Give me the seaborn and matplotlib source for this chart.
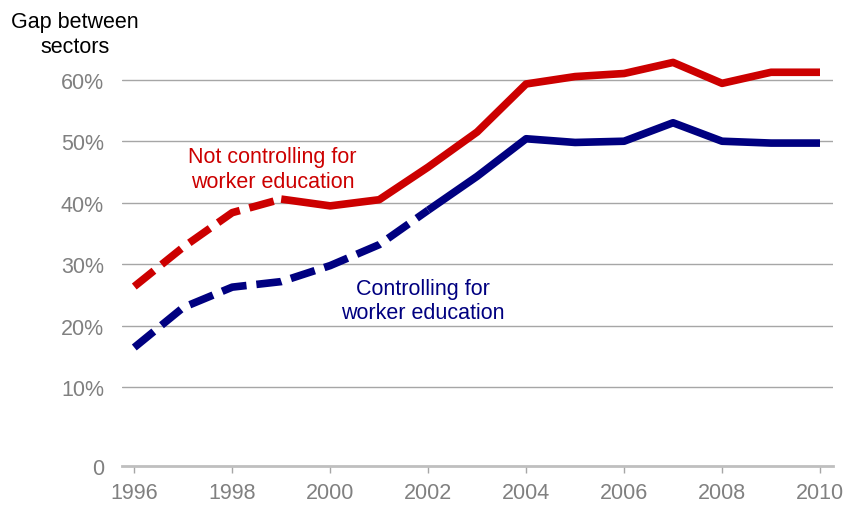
import matplotlib
matplotlib.use("Agg")
import matplotlib.pyplot as plt
import seaborn as sns
import pandas as pd

years = list(range(1996, 2011))
not_controlling = [26.4, 32.8, 38.4, 40.6, 39.5, 40.5, 45.8, 51.5, 59.3, 60.5, 61.0, 62.8, 59.4, 61.2, 61.2]
controlling = [16.5, 23.0, 26.3, 27.2, 29.8, 33.2, 38.8, 44.3, 50.4, 49.8, 50.0, 53.0, 50.0, 49.7, 49.7]
# last year of the dashed (early, less reliable) stretch of each series
dashed_until = {"Not controlling": 1999, "Controlling": 2002}

ytick_values = [10, 20, 30, 40, 50, 60]
ytick_labels = ["10%", "20%", "30%", "40%", "50%", "60%"]
xtick_values = list(range(1996, 2011, 2))

RED = "#cc0000"
NAVY = "#000080"
GRAY_TXT = "#808080"
FS = 15.5

sns.set_theme(style="white")
plt.rcParams["font.family"] = ["Liberation Sans", "DejaVu Sans"]

fig = plt.figure(figsize=(8.48, 5.06), dpi=100)
ax = fig.add_axes([0.1439, 0.0777, 0.982 - 0.1439, 0.9136 - 0.0777])

frames = {
    "Not controlling": pd.DataFrame({"year": years, "gap": not_controlling}),
    "Controlling": pd.DataFrame({"year": years, "gap": controlling}),
}
colors = {"Not controlling": RED, "Controlling": NAVY}

for name, df in frames.items():
    cut = dashed_until[name]
    early = df[df["year"] <= cut]
    late = df[df["year"] >= cut]
    sns.lineplot(data=early, x="year", y="gap", ax=ax, color=colors[name],
                 linewidth=5.5, linestyle=(0, (3.3, 1.3)), dash_capstyle="butt",
                 solid_joinstyle="round")
    sns.lineplot(data=late, x="year", y="gap", ax=ax, color=colors[name],
                 linewidth=5.5, solid_capstyle="butt", solid_joinstyle="round")

y_floor = -2.7
ax.set_xlim(1995.75, 2010.26)
ax.set_ylim(y_floor, 66)

for v in ytick_values:
    ax.axhline(v, color="#a6a6a6", linewidth=1.0, zorder=0)

ax.set_yticks([y_floor] + ytick_values)
ax.set_yticklabels(["0"] + ytick_labels)
ax.set_xticks(xtick_values)
ax.set_xticklabels([str(x) for x in xtick_values])

for side in ["left", "right", "top"]:
    ax.spines[side].set_visible(False)
ax.spines["bottom"].set_color("#bfbfbf")
ax.spines["bottom"].set_linewidth(2.0)

ax.tick_params(axis="y", length=0, pad=13, labelsize=FS, labelcolor=GRAY_TXT)
ax.tick_params(axis="x", length=5, width=1, color="#a6a6a6", direction="out",
               pad=7, labelsize=FS, labelcolor=GRAY_TXT, bottom=True)
ax.set_xlabel("")
ax.set_ylabel("")
ax.grid(False)

fig.text(75 / 848, 1 - 35 / 506, "Gap between\nsectors", ha="center", va="center",
         fontsize=FS, color="black", linespacing=1.2)

ax.text(1998.82, 45.5, "Not controlling for\nworker education", ha="center", va="center",
        fontsize=FS, color=RED, linespacing=1.2)
ax.text(2001.9, 24.1, "Controlling for\nworker education", ha="center", va="center",
        fontsize=FS, color=NAVY, linespacing=1.2)

fig.savefig("out.png", dpi=100)
